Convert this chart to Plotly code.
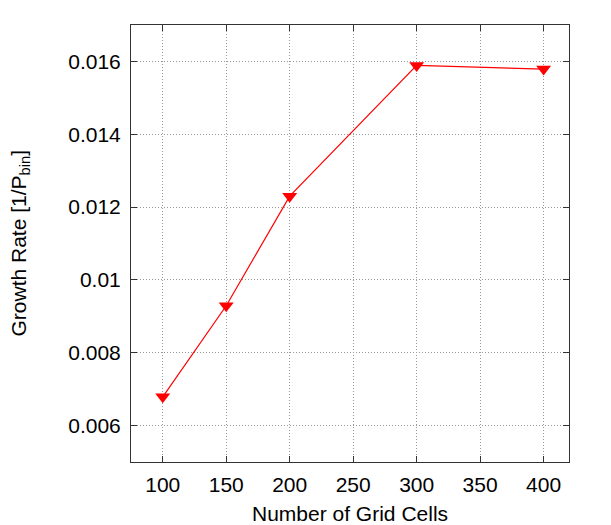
import plotly.graph_objects as go

grid_cells = [100, 150, 200, 300, 400]
growth_rate = [0.00679, 0.00929, 0.0123, 0.01589, 0.01579]

x_ticks = [100, 150, 200, 250, 300, 350, 400]
y_ticks = [0.006, 0.008, 0.01, 0.012, 0.014, 0.016]

x_title = "Number of Grid Cells"
y_title = "Growth Rate [1/P<sub>bin</sub>]"

fig = go.Figure()
fig.add_trace(go.Scatter(
    x=grid_cells, y=growth_rate,
    mode="lines+markers",
    line=dict(color="red", width=1.2),
    marker=dict(symbol="triangle-down", size=13, color="red"),
    showlegend=False,
))

axis_common = dict(
    showline=True, linecolor="#333", linewidth=1, mirror="ticks",
    ticks="inside", ticklen=6, tickcolor="#333",
    showgrid=True, gridcolor="#999", griddash="1px,2px", gridwidth=1,
    zeroline=False, automargin=False,
    tickfont=dict(family="Liberation Sans, Arial", size=21, color="black"),
)

# page body has an 8px margin, so the figure is drawn 8px smaller
fig.update_layout(
    width=603, height=517,
    margin=dict(l=123, r=42, t=17, b=63),
    paper_bgcolor="white",
    plot_bgcolor="white",
    font=dict(family="Liberation Sans, Arial", size=21, color="black"),
    xaxis=dict(range=[75, 420], tickvals=x_ticks, ticklabelstandoff=4, **axis_common),
    yaxis=dict(range=[0.005, 0.017], tickvals=y_ticks, ticklabelstandoff=5, **axis_common),
)

# axis titles as annotations so they sit where the original puts them
fig.add_annotation(text=x_title, xref="paper", yref="paper", x=0.5, y=0,
                   xanchor="center", yanchor="middle", yshift=-51,
                   showarrow=False, font=dict(family="Liberation Sans, Arial", size=21))
fig.add_annotation(text=y_title, xref="paper", yref="paper", x=0, y=0.5,
                   xanchor="center", yanchor="middle", xshift=-112, textangle=-90,
                   showarrow=False, font=dict(family="Liberation Sans, Arial", size=21))

fig.write_html("out.html")
